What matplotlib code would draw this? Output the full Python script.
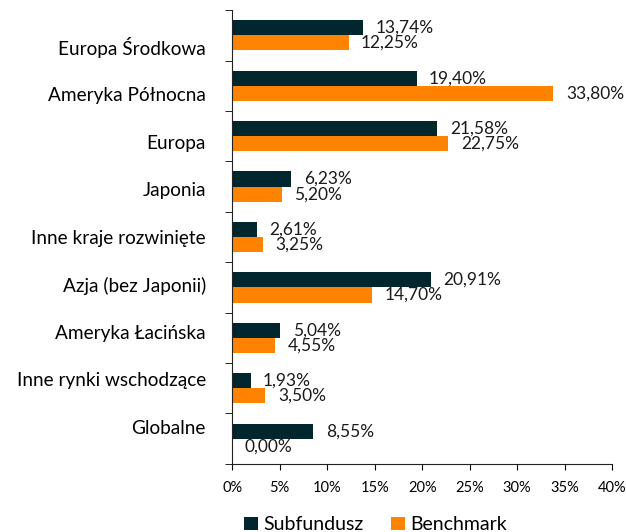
import matplotlib
matplotlib.use("Agg")
import matplotlib.pyplot as plt
import numpy as np

plt.rcParams['font.family'] = ['Lato', 'DejaVu Sans']

categories = ["Europa Środkowa", "Ameryka Północna", "Europa", "Japonia",
              "Inne kraje rozwinięte", "Azja (bez Japonii)", "Ameryka Łacińska",
              "Inne rynki wschodzące", "Globalne"]
subfundusz = [13.74, 19.40, 21.58, 6.23, 2.61, 20.91, 5.04, 1.93, 8.55]
benchmark = [12.25, 33.80, 22.75, 5.20, 3.25, 14.70, 4.55, 3.50, 0.00]
xticks = [0, 5, 10, 15, 20, 25, 30, 35, 40]

dark = "#02262d"
orange = "#ff8200"

fig = plt.figure(figsize=(6.26, 5.32), dpi=100)
ax = fig.add_axes([0.371, 0.128, 0.607, 0.853])

n = len(categories)
y = np.arange(n)
h = 0.3
ax.barh(y - h/2, subfundusz, height=h, color=dark, label="Subfundusz")
ax.barh(y + h/2, benchmark, height=h, color=orange, label="Benchmark")

def fmt(v):
    return f"{v:.2f}".replace(".", ",") + "%"

for yi, v in zip(y, subfundusz):
    ax.annotate(fmt(v), (v, yi - h/2), xytext=(9, 0), textcoords="offset points",
                va="center", ha="left", fontsize=12.5, color="#1a1a1a")
for yi, v in zip(y, benchmark):
    ax.annotate(fmt(v), (v, yi + h/2), xytext=(9, 0), textcoords="offset points",
                va="center", ha="left", fontsize=12.5, color="#1a1a1a")

ax.set_xlim(0, 40)
ax.set_ylim(n - 0.5, -0.5)
ax.set_xticks(xticks)
ax.set_xticklabels([f"{t}%" for t in xticks], fontsize=10.5)
# category labels are spaced slightly tighter than the bands in the original
label_pos = 0.22 + y * 0.943
ax.set_yticks(label_pos)
ax.set_yticklabels(categories, fontsize=13.7)
ax.tick_params(axis="y", length=0, pad=19)
ax.set_yticks(np.arange(-0.5, n, 1), minor=True)
ax.tick_params(axis="y", which="minor", length=5, direction="out")
ax.tick_params(axis="x", length=4, direction="out", pad=8)
for s in ["top", "right"]:
    ax.spines[s].set_visible(False)
for s in ["left", "bottom"]:
    ax.spines[s].set_color("#222222")

fig.legend(loc="lower center", bbox_to_anchor=(0.6, -0.035), ncol=2, frameon=False,
           fontsize=14, handlelength=0.7, handleheight=0.7, columnspacing=1.4,
           handletextpad=0.3)

fig.savefig("out.png", dpi=100)
